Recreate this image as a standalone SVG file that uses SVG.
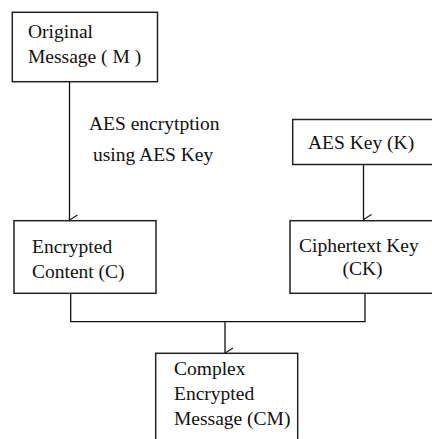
<svg xmlns="http://www.w3.org/2000/svg" width="432" height="439" viewBox="0 0 432 439">
<defs>
<style>
.box{fill:#fff;stroke:#222;stroke-width:1.5}
.t{font-family:"Liberation Serif","Times New Roman",serif;font-size:19.5px;fill:#111}
.c{fill:none;stroke:#111;stroke-width:1.3}
</style>
<marker id="arr" viewBox="-6 -9 12 10" markerWidth="12" markerHeight="10" refX="0" refY="0" orient="auto" markerUnits="userSpaceOnUse">
<path d="M-5,-8 L0,0 L5,-8" fill="none" stroke="#111" stroke-width="1.1"/>
</marker>
</defs>
<rect width="432" height="439" fill="#fff"/>
<g id="connectors">
<line class="c" x1="69.5" y1="82" x2="69.5" y2="220" marker-end="url(#arr)"/>
<line class="c" x1="363.5" y1="165" x2="363.5" y2="219.5" marker-end="url(#arr)"/>
<polyline class="c" points="70.7,293.5 70.7,321.7 365,321.7 365,293.5"/>
<line class="c" x1="225" y1="321.7" x2="225" y2="353" marker-end="url(#arr)"/>
<text class="t" x="89" y="130">AES encrytption</text>
<text class="t" x="93" y="161">using AES Key</text>
</g>
<g id="original">
<rect class="box" x="12.3" y="12.3" width="145.2" height="69.4"/>
<text class="t" x="28" y="38">Original</text>
<text class="t" x="28" y="63">Message ( M )</text>
</g>
<g id="encrypted">
<rect class="box" x="14" y="220.7" width="142" height="72.6"/>
<text class="t" x="32" y="253">Encrypted</text>
<text class="t" x="32" y="278">Content (C)</text>
</g>
<g id="aeskey">
<rect class="box" x="292.7" y="119.5" width="150" height="45"/>
<text class="t" x="308" y="149">AES Key (K)</text>
</g>
<g id="ciphertext">
<rect class="box" x="290" y="220.7" width="152" height="72.6"/>
<text class="t" x="299" y="251.5">Ciphertext Key</text>
<text class="t" x="342.5" y="275">(CK)</text>
</g>
<g id="complex">
<rect class="box" x="155.7" y="353.3" width="142" height="100"/>
<text class="t" x="174" y="375">Complex</text>
<text class="t" x="174" y="400">Encrypted</text>
<text class="t" x="174" y="425">Message (CM)</text>
</g>
</svg>
